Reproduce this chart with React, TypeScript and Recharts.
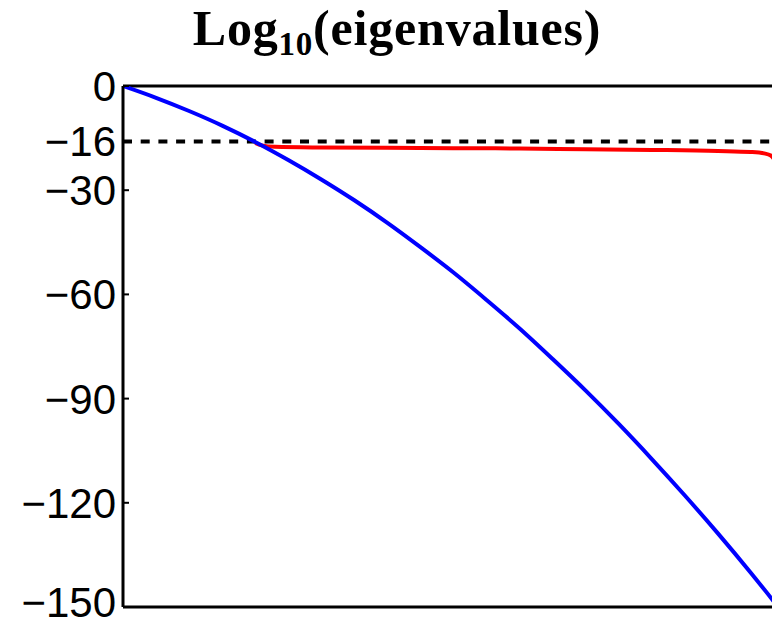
import React from 'react';
import { LineChart, Line, XAxis, YAxis, ReferenceLine } from 'recharts';

// eigenvalue index (0..100 across the plot) and log10 values
const blueIndex = [0, 5, 10, 15, 20, 25, 30, 35, 40, 45, 50, 55, 60, 65, 70, 75, 80, 85, 90, 95, 100];
const blueValues = [0, -3.4, -7.2, -11.4, -16.1, -21.3, -26.9, -32.9, -39.4, -46.4, -53.7, -61.6, -69.8, -78.6, -87.7, -97.3, -107.4, -117.9, -128.8, -140.2, -152.1];

const redIndex = [20, 21, 23, 30, 40, 50, 60, 70, 80, 90, 95, 97, 98, 99, 100];
const redValues = [-16.4, -17.1, -17.5, -17.7, -17.8, -17.9, -18.0, -18.2, -18.4, -18.7, -19.0, -19.4, -20.0, -24.0, -40.0];

const yTicks = [0, -16, -30, -60, -90, -120, -150];
const machineEps = -16;

const blueData = blueIndex.map((x, i) => ({ x, v: blueValues[i] }));
const redData = redIndex.map((x, i) => ({ x, v: redValues[i] }));

const fmt = (v: number) => String(v).replace('-', '\u2212');

// tick label; the bottom one is nudged up so it stays inside the frame
const YTick = (props: any) => {
    const { x, y, payload } = props;
    const nudge = payload.value === -150 ? -5 : 0;
    return (
        <text
            x={x}
            y={y + nudge}
            dy="0.355em"
            textAnchor="end"
            fill="#000"
            fontSize={42}
            fontFamily="'Liberation Sans', Arial, sans-serif"
        >
            {fmt(payload.value)}
        </text>
    );
};

const App: React.FC = () => {
    return (
        <div style={{ position: 'absolute', left: 0, top: 0, width: 772, height: 626, overflow: 'hidden', background: '#fff' }}>
            <svg width={772} height={70} style={{ position: 'absolute', left: 0, top: 0 }}>
                <text
                    x={397}
                    y={45}
                    textAnchor="middle"
                    fontFamily="'Liberation Serif', serif"
                    fontWeight="bold"
                    fontSize={50}
                    letterSpacing={0.8}
                    fill="#000"
                >
                    Log
                    <tspan fontSize={33} dy={10}>10</tspan>
                    <tspan dy={-10}>(eigenvalues)</tspan>
                </text>
            </svg>
            <LineChart width={800} height={626} margin={{ top: 86, right: 16, bottom: 19, left: 0 }}>
                <XAxis type="number" dataKey="x" domain={[0, 100]} hide allowDataOverflow />
                <YAxis
                    type="number"
                    domain={[-150, 0]}
                    ticks={yTicks}
                    interval={0}
                    allowDataOverflow
                    width={123}
                    axisLine={{ stroke: '#000', strokeWidth: 3 }}
                    tickLine={{ stroke: '#000', strokeWidth: 2 }}
                    tickSize={-6}
                    tickMargin={13}
                    tick={<YTick />}
                />
                <ReferenceLine y={0} stroke="#000" strokeWidth={3} />
                <ReferenceLine y={-150} stroke="#000" strokeWidth={3} />
                <Line
                    data={redData}
                    dataKey="v"
                    type="monotone"
                    stroke="#ff0000"
                    strokeWidth={4}
                    dot={false}
                    isAnimationActive={false}
                />
                <ReferenceLine y={machineEps} stroke="#000" strokeWidth={4} strokeDasharray="9 8.7" />
                <Line
                    data={blueData}
                    dataKey="v"
                    type="monotone"
                    stroke="#0000ff"
                    strokeWidth={4}
                    dot={false}
                    isAnimationActive={false}
                />
            </LineChart>
        </div>
    );
};

export default App;
